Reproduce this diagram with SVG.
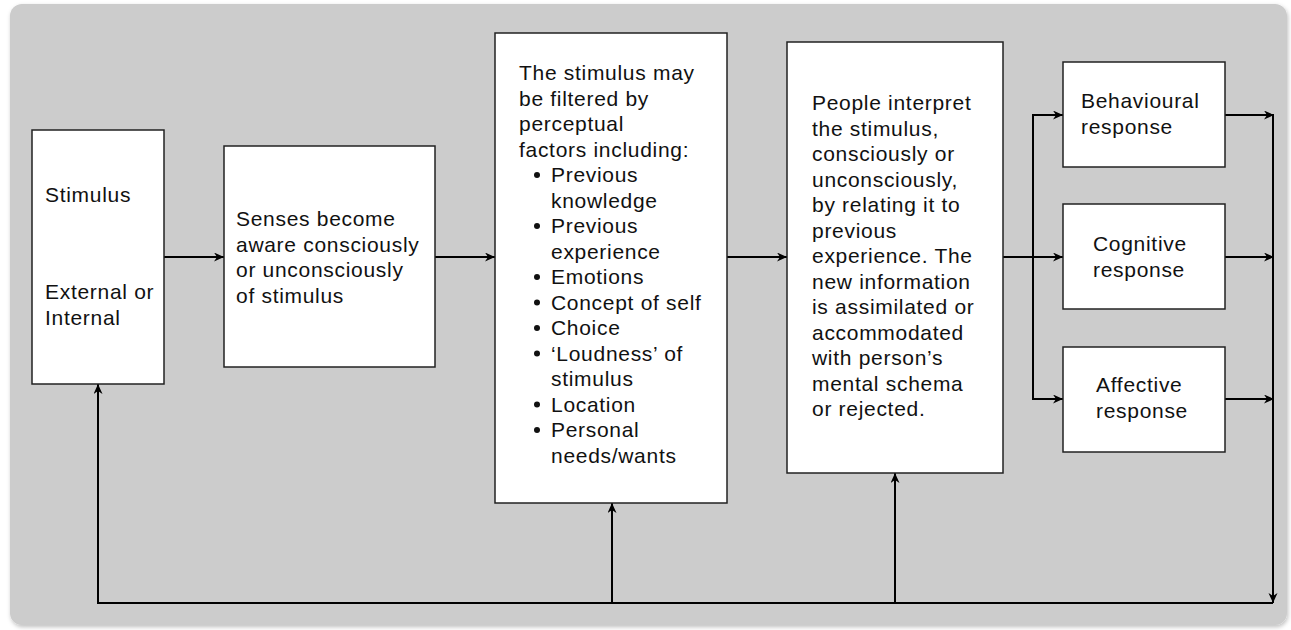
<svg xmlns="http://www.w3.org/2000/svg" width="1291" height="630" viewBox="0 0 1291 630">
  <defs>
    <filter id="shadow" x="-2%" y="-2%" width="104%" height="106%">
      <feDropShadow dx="1" dy="2" stdDeviation="2" flood-color="#000" flood-opacity="0.25"/>
    </filter>
    <marker id="arrow" markerUnits="userSpaceOnUse" markerWidth="12" markerHeight="10" refX="10" refY="4.5" orient="auto">
      <path d="M0,0 L10,4.5 L0,9 L3,4.5 Z" fill="#000"/>
    </marker>
    <style>
      .box { fill: #ffffff; stroke: #222222; stroke-width: 1.5; }
      .txt { font-family: "Liberation Sans", Arial, sans-serif; font-size: 21px; letter-spacing: 0.7px; fill: #111111; }
      .link { fill: none; stroke: #000000; stroke-width: 2; }
      .arr { marker-end: url(#arrow); }
    </style>
  </defs>

  <!-- panel background -->
  <rect x="10" y="4" width="1277" height="621" rx="12" ry="12" fill="#cccccc" filter="url(#shadow)"/>

  <!-- connectors -->
  <g id="connectors">
    <line class="link arr" x1="164" y1="257" x2="224" y2="257"/>
    <line class="link arr" x1="435" y1="257" x2="495" y2="257"/>
    <line class="link arr" x1="727" y1="257" x2="787" y2="257"/>
    <line class="link arr" x1="1003" y1="257" x2="1063" y2="257"/>
    <polyline class="link arr" points="1033,257 1033,115 1063,115"/>
    <polyline class="link arr" points="1033,257 1033,399 1063,399"/>
    <line class="link arr" x1="1225" y1="115" x2="1274" y2="115"/>
    <line class="link arr" x1="1225" y1="257" x2="1274" y2="257"/>
    <line class="link arr" x1="1225" y1="399" x2="1274" y2="399"/>
    <line class="link arr" x1="1273" y1="115" x2="1273" y2="603"/>
    <line class="link" x1="1273" y1="603" x2="97" y2="603"/>
    <line class="link arr" x1="98" y1="603" x2="98" y2="384"/>
    <line class="link arr" x1="612" y1="603" x2="612" y2="503"/>
    <line class="link arr" x1="895" y1="603" x2="895" y2="473"/>
  </g>

  <g id="stimulus">
    <rect class="box" x="32" y="130" width="132" height="254"/>
    <text class="txt" x="45" y="202">Stimulus</text>
    <text class="txt" x="45" y="299">External or</text>
    <text class="txt" x="45" y="325">Internal</text>
  </g>

  <g id="senses">
    <rect class="box" x="224" y="146" width="211" height="221"/>
    <text class="txt" x="236" y="226">Senses become</text>
    <text class="txt" x="236" y="251.5">aware consciously</text>
    <text class="txt" x="236" y="277">or unconsciously</text>
    <text class="txt" x="236" y="302.5">of stimulus</text>
  </g>

  <g id="filter">
    <rect class="box" x="495" y="33" width="232" height="470"/>
    <text class="txt" x="519" y="80">The stimulus may</text>
    <text class="txt" x="519" y="105.5">be filtered by</text>
    <text class="txt" x="519" y="131">perceptual</text>
    <text class="txt" x="519" y="156.5">factors including:</text>
    <g fill="#111111">
      <circle cx="537" cy="175" r="3"/>
      <circle cx="537" cy="226" r="3"/>
      <circle cx="537" cy="277" r="3"/>
      <circle cx="537" cy="302.5" r="3"/>
      <circle cx="537" cy="328" r="3"/>
      <circle cx="537" cy="353.5" r="3"/>
      <circle cx="537" cy="404.5" r="3"/>
      <circle cx="537" cy="430" r="3"/>
    </g>
    <text class="txt" x="551" y="182">Previous</text>
    <text class="txt" x="551" y="207.5">knowledge</text>
    <text class="txt" x="551" y="233">Previous</text>
    <text class="txt" x="551" y="258.5">experience</text>
    <text class="txt" x="551" y="284">Emotions</text>
    <text class="txt" x="551" y="309.5">Concept of self</text>
    <text class="txt" x="551" y="335">Choice</text>
    <text class="txt" x="551" y="360.5">‘Loudness’ of</text>
    <text class="txt" x="551" y="386">stimulus</text>
    <text class="txt" x="551" y="411.5">Location</text>
    <text class="txt" x="551" y="437">Personal</text>
    <text class="txt" x="551" y="462.5">needs/wants</text>
  </g>

  <g id="interpret">
    <rect class="box" x="787" y="42" width="216" height="431"/>
    <text class="txt" x="812" y="110">People interpret</text>
    <text class="txt" x="812" y="135.5">the stimulus,</text>
    <text class="txt" x="812" y="161">consciously or</text>
    <text class="txt" x="812" y="186.5">unconsciously,</text>
    <text class="txt" x="812" y="212">by relating it to</text>
    <text class="txt" x="812" y="237.5">previous</text>
    <text class="txt" x="812" y="263">experience. The</text>
    <text class="txt" x="812" y="288.5">new information</text>
    <text class="txt" x="812" y="314">is assimilated or</text>
    <text class="txt" x="812" y="339.5">accommodated</text>
    <text class="txt" x="812" y="365">with person’s</text>
    <text class="txt" x="812" y="390.5">mental schema</text>
    <text class="txt" x="812" y="416">or rejected.</text>
  </g>

  <g id="behavioural">
    <rect class="box" x="1063" y="62" width="162" height="105"/>
    <text class="txt" x="1081" y="108">Behavioural</text>
    <text class="txt" x="1081" y="134">response</text>
  </g>

  <g id="cognitive">
    <rect class="box" x="1063" y="204" width="162" height="105"/>
    <text class="txt" x="1093" y="251">Cognitive</text>
    <text class="txt" x="1093" y="277">response</text>
  </g>

  <g id="affective">
    <rect class="box" x="1063" y="347" width="162" height="105"/>
    <text class="txt" x="1096" y="392">Affective</text>
    <text class="txt" x="1096" y="418">response</text>
  </g>
</svg>
